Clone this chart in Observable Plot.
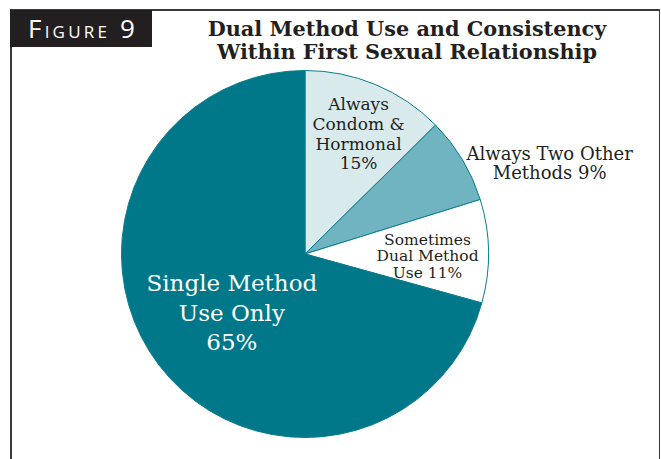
<!DOCTYPE html>
<html>
<head>
<meta charset="utf-8">
<script src="https://cdn.jsdelivr.net/npm/d3@7"></script>
<script src="https://cdn.jsdelivr.net/npm/@observablehq/plot@0.6"></script>
<style>
  html, body { margin: 0; padding: 0; background: #fff; }
  #wrap { position: relative; width: 661px; height: 459px; overflow: hidden; }
  #chart { position: absolute; left: 0; top: 0; }
  #frame { position: absolute; left: 10px; top: 9px; width: 647px; height: 470px;
           border: 2px solid #3a3a3a; border-bottom: none; border-right-width: 1.5px; }
  #fig { position: absolute; left: 10px; top: 10px; width: 142px; height: 37px; background: #231f20;
         color: #fff; font-family: "Open Sans", sans-serif; font-size: 26px; line-height: 37px;
         letter-spacing: 3.2px; padding-left: 18px; box-sizing: border-box; white-space: nowrap; }
  #fig .sc { font-variant: small-caps; text-transform: lowercase; font-size: 24px; }
  #title { position: absolute; left: 140px; width: 534px; top: 17px; text-align: center;
           font-family: "DejaVu Serif", serif; font-weight: bold; font-size: 20.8px; line-height: 23px;
           color: #231f20; }
</style>
</head>
<body>
<div id="wrap">
  <div id="chart"></div>
  <div id="frame"></div>
  <div id="fig">F<span class="sc">igure</span> 9</div>
  <div id="title">Dual Method Use and Consistency<br>Within First Sexual Relationship</div>
</div>
<script>
// ---- data (clockwise from 12 o'clock) ----
const categories = ["Always Condom & Hormonal", "Always Two Other Methods", "Sometimes Dual Method Use", "Single Method Use Only"];
const printedPct = [15, 9, 11, 65];          // percentages printed on the chart
const sliceShare = [12.6, 7.6, 9.1, 70.7];   // slice sizes as drawn in the picture
const labelText = [
  `Always\nCondom &\nHormonal\n${printedPct[0]}%`,
  `Always Two Other\nMethods ${printedPct[1]}%`,
  `Sometimes\nDual Method\nUse ${printedPct[2]}%`,
  `Single Method\nUse Only\n${printedPct[3]}%`
];

// ---- styles ----
const colors = ["#d8eaec", "#70b4c2", "#ffffff", "#007889"];
const labelColors = ["#231f20", "#231f20", "#231f20", "#ffffff"];
const labelSizes = [17, 18, 15.5, 23];
const labelLineHeights = [1.15, 1.08, 1.07, 1.28];
const labelRadius = [0.72, 1.42, 0.665, 0.507];   // fraction of pie radius
const labelAngleShift = [1, 10.5, 1.5, -0.4];     // degrees

const W = 661, H = 459, CX = 305, CY = 254, R = 183.5;

const data = categories.map((c, i) => ({category: c, share: sliceShare[i], color: colors[i], label: labelText[i]}));
const arcs = d3.pie().sort(null).value(d => d.share)(data);

const labels = arcs.map((a, i) => {
  const ang = (a.startAngle + a.endAngle) / 2 + labelAngleShift[i] * Math.PI / 180;
  return {x: labelRadius[i] * Math.sin(ang), y: labelRadius[i] * Math.cos(ang), text: a.data.label, i};
});

const pieMark = (index, scales) => {
  const cx = scales.x(0), cy = scales.y(0), r = Math.abs(scales.x(1) - scales.x(0));
  const arc = d3.arc().innerRadius(0).outerRadius(r);
  const g = d3.create("svg:g").attr("transform", `translate(${cx},${cy})`);
  g.selectAll("path").data(arcs).join("path")
    .attr("d", arc)
    .attr("fill", d => d.data.color)
    .attr("stroke", "#0b7c8c")
    .attr("stroke-width", 1)
    .attr("stroke-linejoin", "round");
  return g.node();
};

const textMarks = labels.map(l => Plot.text([l], {
  x: "x", y: "y", text: "text",
  fill: labelColors[l.i], fontSize: labelSizes[l.i], lineHeight: labelLineHeights[l.i],
  fontFamily: "DejaVu Serif, serif", textAnchor: "middle", lineAnchor: "middle"
}));

const chart = Plot.plot({
  width: W, height: H, margin: 0,
  x: {domain: [-CX / R, (W - CX) / R], axis: null},
  y: {domain: [-(H - CY) / R, CY / R], axis: null},
  marks: [pieMark, ...textMarks]
});
document.getElementById("chart").appendChild(chart);
</script>
</body>
</html>
